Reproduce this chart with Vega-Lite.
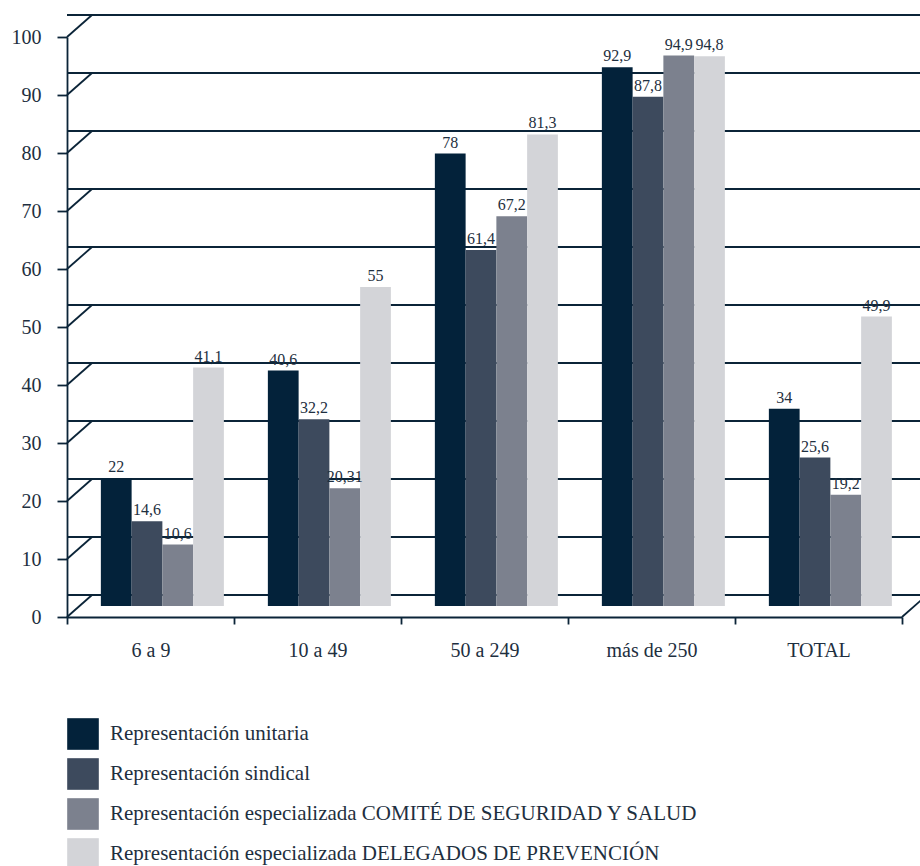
{
  "$schema": "https://vega.github.io/schema/vega-lite/v6.json",
  "width": 835,
  "height": 580,
  "autosize": "none",
  "padding": {"left": 67, "top": 37, "right": 18, "bottom": 249},
  "background": "white",
  "config": {"view": {"stroke": null}, "font": "Liberation Serif"},
  "datasets": {
    "grid": [{"v": 0}, {"v": 10}, {"v": 20}, {"v": 30}, {"v": 40}, {"v": 50}, {"v": 60}, {"v": 70}, {"v": 80}, {"v": 90}, {"v": 100}],
    "bars": [
      {"cat": "6 a 9", "series": "Representación unitaria", "value": 22, "label": "22"},
      {"cat": "6 a 9", "series": "Representación sindical", "value": 14.6, "label": "14,6"},
      {"cat": "6 a 9", "series": "Representación especializada COMITÉ DE SEGURIDAD Y SALUD", "value": 10.6, "label": "10,6"},
      {"cat": "6 a 9", "series": "Representación especializada DELEGADOS DE PREVENCIÓN", "value": 41.1, "label": "41,1"},
      {"cat": "10 a 49", "series": "Representación unitaria", "value": 40.6, "label": "40,6"},
      {"cat": "10 a 49", "series": "Representación sindical", "value": 32.2, "label": "32,2"},
      {"cat": "10 a 49", "series": "Representación especializada COMITÉ DE SEGURIDAD Y SALUD", "value": 20.31, "label": "20,31"},
      {"cat": "10 a 49", "series": "Representación especializada DELEGADOS DE PREVENCIÓN", "value": 55, "label": "55"},
      {"cat": "50 a 249", "series": "Representación unitaria", "value": 78, "label": "78"},
      {"cat": "50 a 249", "series": "Representación sindical", "value": 61.4, "label": "61,4"},
      {"cat": "50 a 249", "series": "Representación especializada COMITÉ DE SEGURIDAD Y SALUD", "value": 67.2, "label": "67,2"},
      {"cat": "50 a 249", "series": "Representación especializada DELEGADOS DE PREVENCIÓN", "value": 81.3, "label": "81,3"},
      {"cat": "más de 250", "series": "Representación unitaria", "value": 92.9, "label": "92,9"},
      {"cat": "más de 250", "series": "Representación sindical", "value": 87.8, "label": "87,8"},
      {"cat": "más de 250", "series": "Representación especializada COMITÉ DE SEGURIDAD Y SALUD", "value": 94.9, "label": "94,9"},
      {"cat": "más de 250", "series": "Representación especializada DELEGADOS DE PREVENCIÓN", "value": 94.8, "label": "94,8"},
      {"cat": "TOTAL", "series": "Representación unitaria", "value": 34, "label": "34"},
      {"cat": "TOTAL", "series": "Representación sindical", "value": 25.6, "label": "25,6"},
      {"cat": "TOTAL", "series": "Representación especializada COMITÉ DE SEGURIDAD Y SALUD", "value": 19.2, "label": "19,2"},
      {"cat": "TOTAL", "series": "Representación especializada DELEGADOS DE PREVENCIÓN", "value": 49.9, "label": "49,9"}
    ]
  },
  "layer": [
    {
      "data": {"name": "grid"},
      "mark": {"type": "rule", "color": "#0b2438", "strokeWidth": 1.8, "xOffset": 25, "x2Offset": 25, "yOffset": -22},
      "encoding": {
        "y": {
          "field": "v", "type": "quantitative",
          "scale": {"domain": [0, 100], "nice": false},
          "axis": {
            "values": [0, 10, 20, 30, 40, 50, 60, 70, 80, 90, 100],
            "title": null, "grid": false,
            "tickSize": 10, "tickWidth": 1.8, "tickColor": "#0b2438",
            "domainColor": "#0b2438", "domainWidth": 1.8,
            "labelFontSize": 20, "labelColor": "#1e2f40", "labelPadding": 16
          }
        }
      }
    },
    {
      "data": {"name": "grid"},
      "mark": {"type": "rule", "color": "#0b2438", "strokeWidth": 1.8, "y2Offset": -22},
      "encoding": {
        "y": {"field": "v", "type": "quantitative"},
        "y2": {"field": "v"},
        "x": {"value": 0},
        "x2": {"value": 25}
      }
    },
    {
      "data": {"values": [{"v": 0}]},
      "mark": {"type": "rule", "color": "#0b2438", "strokeWidth": 1.8, "y2Offset": -22},
      "encoding": {
        "y": {"field": "v", "type": "quantitative"},
        "y2": {"field": "v"},
        "x": {"value": 835},
        "x2": {"value": 860}
      }
    },
    {
      "data": {"name": "bars"},
      "mark": {"type": "bar", "yOffset": -11, "y2Offset": -11},
      "encoding": {
        "x": {
          "field": "cat", "type": "nominal",
          "sort": ["6 a 9", "10 a 49", "50 a 249", "más de 250", "TOTAL"],
          "scale": {"paddingInner": 0, "paddingOuter": 0},
          "axis": {
            "title": null, "labelAngle": 0, "tickBand": "extent",
            "tickSize": 7, "tickWidth": 1.8, "tickColor": "#0b2438",
            "domainColor": "#0b2438", "domainWidth": 1.8,
            "labelFontSize": 20, "labelColor": "#1e2f40", "labelPadding": 16, "labelBaseline": "top"
          }
        },
        "xOffset": {
          "field": "series", "type": "nominal",
          "scale": {
            "domain": ["Representación unitaria", "Representación sindical", "Representación especializada COMITÉ DE SEGURIDAD Y SALUD", "Representación especializada DELEGADOS DE PREVENCIÓN"],
            "paddingInner": 0, "paddingOuter": 0.715, "align": 0.77
          }
        },
        "y": {"field": "value", "type": "quantitative"},
        "color": {
          "field": "series", "type": "nominal",
          "scale": {
            "domain": ["Representación unitaria", "Representación sindical", "Representación especializada COMITÉ DE SEGURIDAD Y SALUD", "Representación especializada DELEGADOS DE PREVENCIÓN"],
            "range": ["#03223a", "#3d4a5d", "#7c818e", "#d3d4d8"]
          },
          "legend": {
            "orient": "none", "legendX": 0, "legendY": 681,
            "direction": "vertical", "title": null,
            "symbolType": "square", "symbolSize": 1000, "symbolStrokeWidth": 0, "symbolOpacity": 1,
            "labelFontSize": 21, "labelColor": "#1e2f40", "labelOffset": 11, "labelLimit": 0,
            "rowPadding": 8, "padding": 0
          }
        }
      }
    },
    {
      "data": {"name": "bars"},
      "mark": {"type": "text", "baseline": "alphabetic", "yOffset": -17, "fontSize": 16, "color": "#1e2f40"},
      "encoding": {
        "x": {"field": "cat", "type": "nominal", "sort": ["6 a 9", "10 a 49", "50 a 249", "más de 250", "TOTAL"]},
        "xOffset": {"field": "series", "type": "nominal"},
        "y": {"field": "value", "type": "quantitative"},
        "text": {"field": "label"}
      }
    }
  ]
}
